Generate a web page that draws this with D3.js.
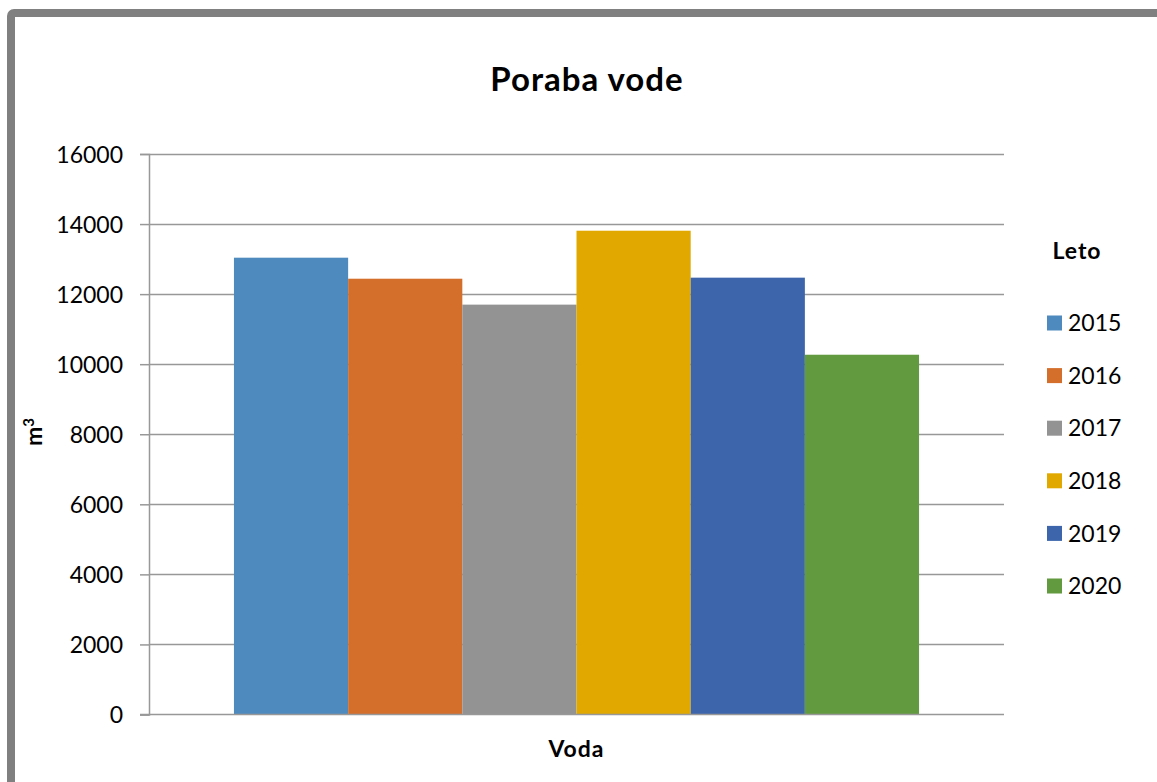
<!DOCTYPE html>
<html>
<head>
<meta charset="utf-8">
<script src="https://cdn.jsdelivr.net/npm/d3@7"></script>
<style>
  html, body { margin: 0; padding: 0; background: #fff; }
  svg { display: block; }
  text { font-family: Lato, "Open Sans", "Liberation Sans", sans-serif; fill: #000; }
</style>
</head>
<body>
<svg id="chart" width="1157" height="782"></svg>
<script>
const categories = ["Voda"];
const years = ["2015", "2016", "2017", "2018", "2019", "2020"];
const values = [13040, 12440, 11700, 13810, 12470, 10270];
const colors = ["#4F8ABE", "#D46E2B", "#939393", "#E1A900", "#3C65AC", "#629A3F"];
const yTicks = [0, 2000, 4000, 6000, 8000, 10000, 12000, 14000, 16000];

(function () {
const svg = d3.select("#chart");
const W = 1157, H = 782;
const pLeft = 149, pRight = 1004, pTop = 154, pBottom = 714.5;

svg.append("rect").attr("width", W).attr("height", H).attr("fill", "#fff");

// outer frame
svg.append("rect")
  .attr("x", 11).attr("y", 13)
  .attr("width", W + 40).attr("height", H + 40)
  .attr("rx", 3)
  .attr("fill", "none").attr("stroke", "#808080").attr("stroke-width", 8);

const y = d3.scaleLinear().domain([0, 16000]).range([pBottom, pTop]);
const x0 = d3.scaleBand().domain(categories).range([pLeft, pRight]).paddingInner(0).paddingOuter(0.124);
const x1 = d3.scaleBand().domain(years).range([0, x0.bandwidth()]).padding(0);

// gridlines
svg.append("g").selectAll("line").data(yTicks.filter(d => d > 0)).join("line")
  .attr("x1", pLeft).attr("x2", pRight)
  .attr("y1", d => Math.round(y(d)) + 0.5).attr("y2", d => Math.round(y(d)) + 0.5)
  .attr("stroke", "#989898").attr("stroke-width", 1.5);

// bars
const data = years.map((yr, i) => ({ cat: categories[0], year: yr, value: values[i], color: colors[i] }));
svg.append("g").selectAll("rect").data(data).join("rect")
  .attr("x", d => x0(d.cat) + x1(d.year))
  .attr("width", x1.bandwidth())
  .attr("y", d => y(d.value))
  .attr("height", d => y(0) - y(d.value))
  .attr("fill", d => d.color);

// y axis
const yAxis = d3.axisLeft(y).tickValues(yTicks).tickSize(9).tickPadding(17).tickFormat(d3.format("d"));
const gy = svg.append("g").attr("transform", `translate(${pLeft},0)`).call(yAxis);
gy.select(".domain").attr("stroke", "#989898").attr("stroke-width", 1.5);
gy.selectAll(".tick line").attr("stroke", "#989898").attr("stroke-width", 1.5);
gy.selectAll(".tick text").style("font-size", "23px").attr("fill", "#000").attr("dy", "0.35em");

// x axis baseline
svg.append("line")
  .attr("x1", pLeft - 9).attr("x2", pRight)
  .attr("y1", pBottom).attr("y2", pBottom)
  .attr("stroke", "#989898").attr("stroke-width", 1.5);

// title
svg.append("text").attr("x", 587).attr("y", 91)
  .attr("text-anchor", "middle").style("font-size", "33px").style("font-weight", "bold")
  .style("letter-spacing", "1px")
  .text("Poraba vode");

// x axis title
svg.append("text").attr("x", x0("Voda") + x0.bandwidth() / 2).attr("y", 757)
  .attr("text-anchor", "middle").style("font-size", "23px").style("font-weight", "bold")
  .style("letter-spacing", "1px")
  .text(categories[0]);

// y axis title
const yt = svg.append("text").attr("transform", "translate(42,432) rotate(-90)")
  .attr("text-anchor", "middle").style("font-size", "23px").style("font-weight", "bold");
yt.append("tspan").text("m");
yt.append("tspan").attr("dy", "-0.55em").style("font-size", "15px").text("3");

// legend
svg.append("text").attr("x", 1077).attr("y", 259)
  .attr("text-anchor", "middle").style("font-size", "23px").style("font-weight", "bold")
  .style("letter-spacing", "1px")
  .text("Leto");

const legend = svg.append("g").selectAll("g").data(data).join("g")
  .attr("transform", (d, i) => `translate(1047, ${323 + i * 52.6})`);
legend.append("rect").attr("x", 0).attr("y", -7.5).attr("width", 15).attr("height", 15)
  .attr("fill", d => d.color);
legend.append("text").attr("x", 21).attr("y", 0).attr("dy", "0.36em")
  .style("font-size", "23px").text(d => d.year);
})();
</script>
</body>
</html>
